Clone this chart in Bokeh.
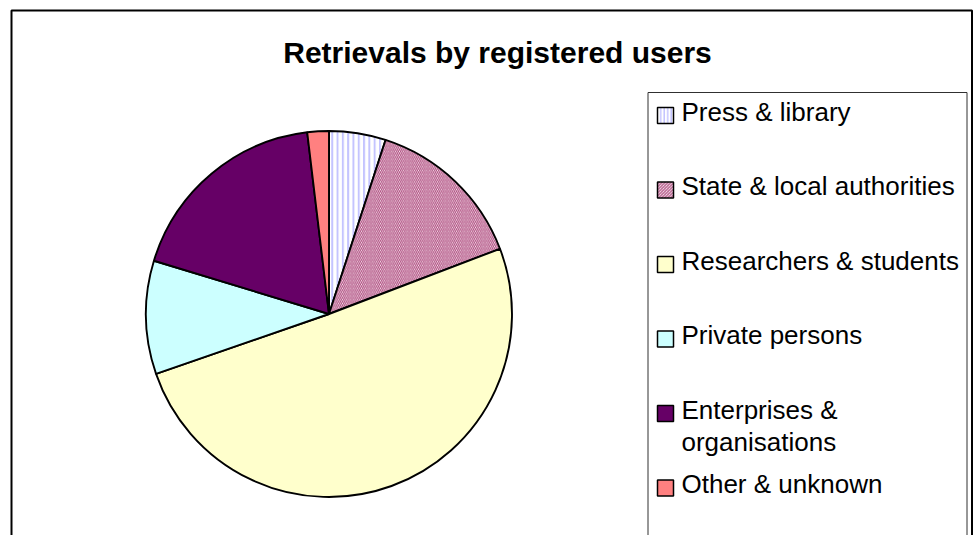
import math
from bokeh.plotting import figure
from bokeh.models import ColumnDataSource, Range1d
from bokeh.core.properties import value
from bokeh.embed import file_html
from bokeh.resources import INLINE

# ---- data ----
title_text = "Retrievals by registered users"
categories = ["Press & library", "State & local authorities", "Researchers & students",
              "Private persons", "Enterprises &\norganisations", "Other & unknown"]
shares = [5.0, 14.2, 50.5, 10.0, 18.4, 1.9]
fill_colors = ["#FFFFFF", "#FFFFFF", "#FFFFCC", "#CCFFFF", "#660066", "#FF8080"]
hatch_patterns = ["|", "\\", " ", " ", " ", " "]
hatch_colors = ["#c4c4ff", "#b04c80", "#000000", "#000000", "#000000", "#000000"]
hatch_scales = [5.3, 3.8, 6, 6, 6, 6]
hatch_weights = [2.0, 1.2, 1, 1, 1, 1]

# ---- layout (pixel-like coordinates, page origin at top-left) ----
W, H = 978, 535
def py(page_y):  # page y -> data y
    return H - page_y
def px(page_x):
    return page_x

p = figure(width=W, height=H, x_range=Range1d(0, W), y_range=Range1d(0, H),
           output_backend="svg", toolbar_location=None,
           x_axis_location=None, y_axis_location=None, min_border=0)
p.grid.visible = False
p.outline_line_color = None
p.background_fill_color = "white"

# outer chart frame (bottom runs off the page)
p.quad(left=[px(11)], right=[px(971.5)], top=[py(10)], bottom=[-30],
       fill_color=None, line_color="black", line_width=2)

# title
p.text(x=[px(497)], y=[py(52)], text=[title_text], text_align="center",
       text_baseline="middle", text_font=value("Liberation Sans"),
       text_font_style="bold", text_font_size="30px", text_color="black")

# pie
total = sum(shares)
starts, ends = [], []
cum = 0.0
for s in shares:
    starts.append(math.pi / 2 - 2 * math.pi * cum / total)
    cum += s
    ends.append(math.pi / 2 - 2 * math.pi * cum / total)

src = ColumnDataSource(dict(cat=categories, share=shares, start=starts, end=ends,
                            color=fill_colors, hatch=hatch_patterns, hcolor=hatch_colors,
                            hscale=hatch_scales, hweight=hatch_weights))
p.wedge(x=px(328.5), y=py(313.5), radius=183, start_angle="start", end_angle="end",
        direction="clock", fill_color="color", hatch_pattern="hatch",
        hatch_color="hcolor", hatch_scale="hscale", hatch_weight="hweight",
        line_color="black", line_width=1.9, source=src)

# legend box
p.quad(left=[px(647.5)], right=[px(966.5)], top=[py(92)], bottom=[-30],
       fill_color="white", line_color="#303030", line_width=1)

# legend entries
base0, step = 120.0, 74.5
sw_x, sw_y = [], []
tx, ty, tt = [], [], []
for i, c in enumerate(categories):
    b = base0 + step * i
    sw_x.append(px(665))
    sw_y.append(py(b - 5))
    for j, line in enumerate(c.split("\n")):
        tx.append(px(681))
        ty.append(py(b - 9 + 32 * j))
        tt.append(line)

lsrc = ColumnDataSource(dict(x=sw_x, y=sw_y, color=fill_colors, hatch=hatch_patterns,
                             hcolor=hatch_colors, hscale=[3.5, 3.0, 6, 6, 6, 6],
                             hweight=[1.5, 1.0, 1, 1, 1, 1]))
p.rect(x="x", y="y", width=16, height=16, fill_color="color", hatch_pattern="hatch",
       hatch_color="hcolor", hatch_scale="hscale", hatch_weight="hweight",
       line_color="black", line_width=1.5, source=lsrc)

p.text(x=tx, y=ty, text=tt, text_align="left", text_baseline="middle",
       text_font=value("Liberation Sans"), text_font_size="26px", text_color="black")

open("out.html", "w").write(file_html(p, INLINE))
